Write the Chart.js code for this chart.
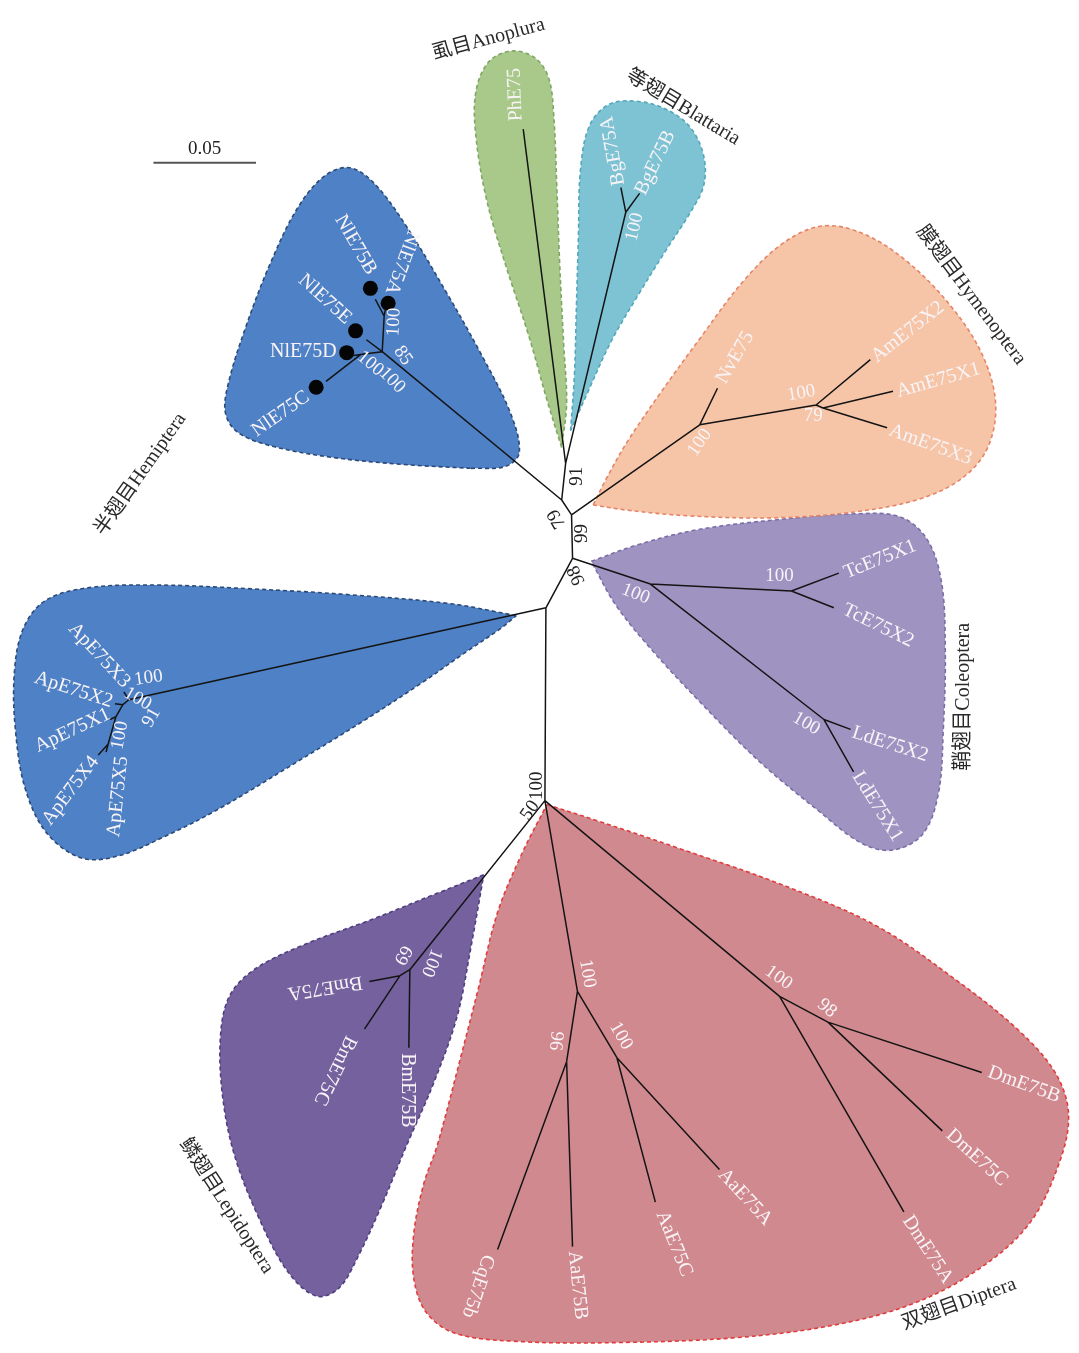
<!DOCTYPE html>
<html>
<head>
<meta charset="utf-8">
<script src="https://cdn.jsdelivr.net/npm/chart.js@4.4.1/dist/chart.umd.min.js"></script>
<style>
  html, body { margin: 0; padding: 0; background: #ffffff; }
  #wrap { width: 1079px; height: 1353px; }
</style>
</head>
<body>
<div id="wrap"><canvas id="tree" width="1079" height="1353"></canvas></div>
<script>
// ---------- Tree data: node placement of the unrooted E75 tree ----------
const nodeIds = ['Q','R','P','S','T','U',
  'N1','N2','N3','NlE75A','NlE75B','NlE75E','NlE75D','NlE75C',
  'PhE75','Bg','BgE75A','BgE75B',
  'H1','NvE75','H2','H3','AmE75X2','AmE75X1','AmE75X3',
  'C1','C2','TcE75X1','TcE75X2','C3','LdE75X2','LdE75X1',
  'A1','A2','A3','A4','ApE75X3','ApE75X2','ApE75X1','ApE75X4','ApE75X5',
  'L1','L2','BmE75A','BmE75C','BmE75B',
  'D1','D2','DmE75B','DmE75C','DmE75A',
  'D3','D4','D5','AaE75A','AaE75C','AaE75B','CqE75b'];
const nodeX = [562,566,572,573,546,545,
  380,382,358,383,373,364,351,323,
  523,627,622,641,
  702,720,820,827,875,898,892,
  652,795,843,838,828,855,858,
  123,117,110,102,118,109,104,92,100,
  408,398,367,362,407,
  783,832,988,948,909,
  578,618,567,722,657,573,497];
const nodeY = [498,461,513,557,607,802,
  348,312,351,306,295,336,352,378,
  123,207,182,188,
  422,385,402,405,356,388,425,
  583,590,572,607,720,730,773,
  700,705,717,745,692,704,720,756,753,
  973,979,985,1033,1052,
  1000,1026,1077,1136,1218,
  995,1062,1066,1175,1208,1253,1256];

const edgeFrom = ['Q','Q','Q','R','R','Bg','Bg','N1','N1','N1','N2','N2','N3','N3',
  'P','H1','H1','H2','H2','H3','H3','P','S','C1','C2','C2','C1','C3','C3',
  'S','T','A1','A1','A2','A2','A3','A3','A4','A4','T',
  'U','L1','L1','L2','L2','U','D1','D1','D2','D2','U','D3','D3','D4','D4','D5','D5'];
const edgeTo = ['R','P','N1','PhE75','Bg','BgE75A','BgE75B','N2','NlE75E','N3','NlE75A','NlE75B','NlE75D','NlE75C',
  'H1','NvE75','H2','AmE75X2','H3','AmE75X1','AmE75X3','S','C1','C2','TcE75X1','TcE75X2','C3','LdE75X2','LdE75X1',
  'T','A1','ApE75X3','A2','ApE75X2','A3','ApE75X1','A4','ApE75X4','ApE75X5','U',
  'L1','BmE75B','L2','BmE75A','BmE75C','D1','DmE75A','D2','DmE75B','DmE75C','D3','D4','D5','AaE75A','AaE75C','AaE75B','CqE75b'];

// Nilaparvata genes highlighted with a filled marker
const markedIds = ['NlE75B','NlE75A','NlE75E','NlE75D','NlE75C'];
const markX = [368,386,353,344,313];
const markY = [284,299,327,349,384];

// bootstrap support values
const supportValues = [91,79,99,98,100,50,
  100,85,100,100,
  100,
  100,100,79,
  100,100,100,
  100,100,91,100,
  69,100,
  100,96,100,100,98];

// scale bar (0.05 substitutions per site)
const scaleBarValue = '0.05';
const scaleBarX = [148,252];
const scaleBarY = [157,157];

// clade names and hull outlines
const cladeNames = ['虱目Anoplura','等翅目Blattaria','膜翅目Hymenoptera','鞘翅目Coleoptera',
  '双翅目Diptera','鳞翅目Lepidoptera','半翅目Hemiptera'];
const anopluraX = [562,548,528,505,486,475,475,488,511,535,549,554,557,560,564,567,562];
const anopluraY = [445,400,330,260,195,130,85,55,44,51,72,110,180,260,340,400,445];
const blattariaX = [571,575,577,579,581,590,610,640,670,693,706,706,692,668,640,612,588,571];
const blattariaY = [428,370,300,230,165,120,98,95,104,122,150,180,208,245,290,338,390,428];
const hymenopteraX = [594,607,628,662,702,746,787,826,866,910,955,988,1002,994,968,925,860,780,690,626,594];
const hymenopteraY = [503,477,440,390,335,277,238,221,228,255,300,350,400,445,476,497,510,516,514,508,503];
const coleopteraX = [592,640,700,780,860,905,932,947,951,949,944,928,898,866,822,762,702,652,616,592];
const coleopteraY = [560,543,528,518,512,515,537,580,650,730,795,836,852,845,812,762,702,648,603,560];
const dipteraX = [547,600,680,780,880,960,1025,1063,1076,1066,1036,986,920,840,740,620,520,455,425,412,412,422,436,460,478,497,522,547];
const dipteraY = [806,823,850,885,928,982,1034,1078,1120,1170,1230,1275,1310,1332,1345,1350,1349,1341,1320,1285,1240,1190,1150,1060,990,915,855,806];
const lepidopteraX = [483,430,370,300,250,225,216,218,230,254,284,313,336,356,380,405,432,456,470,483];
const lepidopteraY = [877,898,922,948,973,1000,1040,1100,1160,1222,1278,1303,1295,1262,1210,1150,1088,1020,950,877];
const hemipteraNlX = [470,505,519,510,480,445,405,372,347,322,294,266,242,224,221,234,270,330,400,470];
const hemipteraNlY = [466,464,450,410,350,288,222,178,162,170,203,260,322,380,410,430,444,455,462,466];
const hemipteraApX = [516,450,350,250,150,80,38,16,7,8,18,40,75,112,160,215,290,360,420,466,500,516];
const hemipteraApY = [615,603,594,588,584,587,600,628,672,730,790,835,860,858,838,810,765,722,683,651,628,615];

// ---------- Drawing styles and text placement ----------
const cladeStyles = [
  { xs: anopluraX,    ys: anopluraY,    fill: '#a9c98b', edge: '#7fa663' },
  { xs: blattariaX,   ys: blattariaY,   fill: '#7ec3d3', edge: '#52a7bb' },
  { xs: hymenopteraX, ys: hymenopteraY, fill: '#f6c5a7', edge: '#e58466' },
  { xs: coleopteraX,  ys: coleopteraY,  fill: '#9f94c1', edge: '#7a6ea6' },
  { xs: dipteraX,     ys: dipteraY,     fill: '#d0898e', edge: '#e23b3b' },
  { xs: lepidopteraX, ys: lepidopteraY, fill: '#74619e', edge: '#4f3f80' },
  { xs: hemipteraNlX, ys: hemipteraNlY, fill: '#4e81c5', edge: '#2c4a78' },
  { xs: hemipteraApX, ys: hemipteraApY, fill: '#4e81c5', edge: '#2c4a78' }
];

// leaf label placement: centre (data units) and rotation in degrees
const leafLabelPlace = {
  NlE75B: [353,240,60],  NlE75A: [400,258,110], NlE75E: [322,295,42],
  NlE75D: [300,348,0],   NlE75C: [277,411,-35],
  PhE75:  [515,88,-92],  BgE75A: [614,145,-100], BgE75B: [657,157,-64],
  NvE75:  [738,354,-60], AmE75X2: [913,328,-38], AmE75X1: [944,377,-16], AmE75X3: [936,442,20],
  TcE75X1: [885,558,-22], TcE75X2: [883,625,26], LdE75X2: [895,745,18], LdE75X1: [882,808,58],
  DmE75B: [1031,1089,20], DmE75C: [983,1163,42], DmE75A: [933,1256,57],
  AaE75A: [748,1203,47], AaE75C: [676,1250,68], AaE75B: [578,1292,84], CqE75b: [477,1293,109],
  BmE75B: [405,1095,90], BmE75C: [332,1075,116], BmE75A: [322,991,171],
  ApE75X3: [93,655,47], ApE75X2: [67,690,18], ApE75X1: [66,731,-25],
  ApE75X4: [64,792,-53], ApE75X5: [112,798,-84]
};

// support label placement [x, y, rotation, onWhite]
const supportPlace = [
  [578,474,-90,1],[557,517,-120,1],[583,532,-90,1],[577,574,-115,1],[537,787,-90,1],[530,812,-55,1],
  [392,318,-87,0],[401,352,55,0],[368,360,40,0],[390,377,45,0],
  [636,222,-77,0],
  [702,440,-55,0],[805,390,-10,0],[817,413,0,0],
  [637,593,22,0],[783,575,0,0],[810,724,30,0],
  [143,678,-8,0],[132,699,30,0],[146,718,-60,0],[114,736,-80,0],
  [401,958,120,0],[430,966,112,0],
  [588,977,80,0],[556,1045,95,0],[622,1040,60,0],[782,981,35,0],[831,1012,40,0]
];

// clade title placement [x, y, rotation]
const cladeTitlePlace = [
  [488,32,-15],[685,101,31],[977,291,53],[970,697,-90],[965,1311,-20],[222,1212,57],[135,472,-55]
];
const scaleLabelPlace = [200,143];

const SERIF = "'Liberation Serif', 'Times New Roman', 'Noto Sans CJK SC', serif";
const LIGHT = '#f8f3f6';
const DARK = '#222222';

// ---------- Build datasets ----------
const idx = id => nodeIds.indexOf(id);
const branchPoints = [];
edgeFrom.forEach((from, i) => {
  const a = idx(from), b = idx(edgeTo[i]);
  branchPoints.push({ x: nodeX[a], y: nodeY[a] }, { x: nodeX[b], y: nodeY[b] }, { x: null, y: null });
});

const datasets = [
  {
    label: 'markers',
    data: markX.map((v, i) => ({ x: v, y: markY[i] })),
    pointRadius: 7.5, pointBackgroundColor: '#050505', pointBorderWidth: 0,
    showLine: false, order: 0
  },
  {
    label: 'branches',
    data: branchPoints,
    showLine: true, spanGaps: false, borderColor: '#141414', borderWidth: 1.5,
    pointRadius: 0, tension: 0, fill: false, order: 1
  },
  {
    label: 'scale bar',
    data: scaleBarX.map((v, i) => ({ x: v, y: scaleBarY[i] })),
    showLine: true, borderColor: '#555555', borderWidth: 2, pointRadius: 0, order: 1
  }
];
cladeStyles.forEach((c, k) => {
  datasets.push({
    label: 'clade ' + k,
    data: c.xs.map((v, i) => ({ x: v, y: c.ys[i] })),
    showLine: true, fill: 'shape', backgroundColor: c.fill,
    borderColor: c.edge, borderWidth: 1.6, borderDash: [4, 3],
    tension: 0.35, pointRadius: 0, order: 2
  });
});

// ---------- Text layer ----------
const treeText = {
  id: 'treeText',
  afterDatasetsDraw(chart) {
    const { ctx, scales: { x, y } } = chart;
    const put = (txt, dx, dy, rot, size, color) => {
      ctx.save();
      ctx.translate(x.getPixelForValue(dx), y.getPixelForValue(dy));
      ctx.rotate(rot * Math.PI / 180);
      ctx.font = size + 'px ' + SERIF;
      ctx.fillStyle = color;
      ctx.textAlign = 'center';
      ctx.textBaseline = 'middle';
      ctx.fillText(txt, 0, 0);
      ctx.restore();
    };
    Object.keys(leafLabelPlace).forEach(name => {
      const p = leafLabelPlace[name];
      put(name, p[0], p[1], p[2], 20, LIGHT);
    });
    supportValues.forEach((v, i) => {
      const p = supportPlace[i];
      put(String(v), p[0], p[1], p[2], 19, p[3] ? DARK : LIGHT);
    });
    cladeNames.forEach((n, i) => {
      const p = cladeTitlePlace[i];
      put(n, p[0], p[1], p[2], 20, '#2a2a2a');
    });
    put(scaleBarValue, scaleLabelPlace[0], scaleLabelPlace[1], 0, 19, DARK);
  }
};

new Chart(document.getElementById('tree').getContext('2d'), {
  type: 'scatter',
  data: { datasets },
  options: {
    responsive: false,
    maintainAspectRatio: false,
    animation: false,
    events: [],
    layout: { padding: 0 },
    plugins: { legend: { display: false }, tooltip: { enabled: false } },
    scales: {
      x: { type: 'linear', min: 0, max: 1079, display: false },
      y: { type: 'linear', min: 0, max: 1353, reverse: true, display: false }
    }
  },
  plugins: [treeText]
});
</script>
</body>
</html>
